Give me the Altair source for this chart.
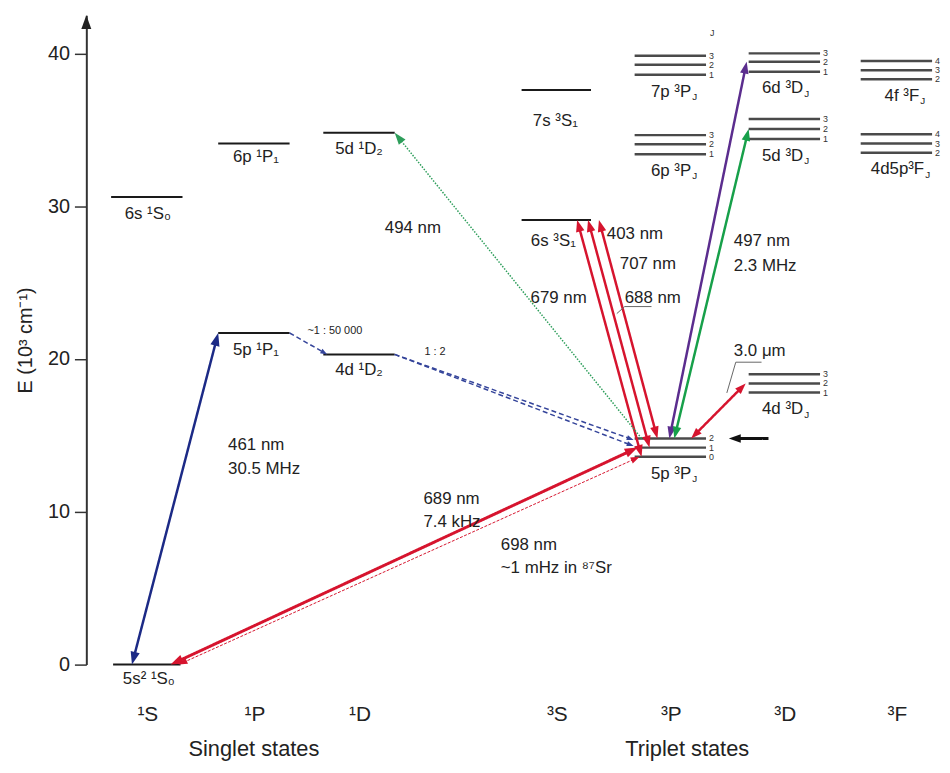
import math
import altair as alt
import pandas as pd

# ------------------------------------------------------------------ data
# energies in 10^3 cm^-1
single_names = ["5s² ¹S₀", "6s ¹S₀", "5p ¹P₁", "6p ¹P₁", "4d ¹D₂", "5d ¹D₂", "6s ³S₁", "7s ³S₁"]
single_terms = ["1S", "1S", "1P", "1P", "1D", "1D", "3S", "3S"]
single_E = [0.0, 30.6, 21.7, 34.1, 20.3, 34.8, 29.1, 37.6]

multi_names = ["5p ³P", "6p ³P", "7p ³P", "4d ³D", "5d ³D", "6d ³D", "4d5p³F", "4f ³F"]
multi_terms = ["3P", "3P", "3P", "3D", "3D", "3D", "3F", "3F"]
multi_E = [[14.8, 14.2, 13.6], [34.65, 34.05, 33.4], [39.85, 39.25, 38.6],
           [19.0, 18.4, 17.8], [35.7, 35.05, 34.4], [40.0, 39.45, 38.8],
           [34.7, 34.1, 33.5], [39.5, 38.9, 38.3]]
multi_J = [["2", "1", "0"], ["3", "2", "1"], ["3", "2", "1"], ["3", "2", "1"],
           ["3", "2", "1"], ["3", "2", "1"], ["4", "3", "2"], ["4", "3", "2"]]

term_keys = ["1S", "1P", "1D", "3S", "3P", "3D", "3F"]
term_text = ["¹S", "¹P", "¹D", "³S", "³P", "³D", "³F"]
group_text = ["Singlet states", "Triplet states"]

trans_label_text = ["461 nm", "30.5 MHz", "494 nm", "689 nm", "7.4 kHz", "698 nm",
                    "~1 mHz in ⁸⁷Sr", "679 nm", "707 nm", "688 nm", "403 nm",
                    "497 nm", "2.3 MHz", "3.0 μm"]
ratio_text = ["~1 : 50 000", "1 : 2"]
y_ticks = [0, 10, 20, 30, 40]

# ------------------------------------------------------------------ layout
FONT = "Liberation Sans"
W, H = 858, 655
YMAX = 42.5
K = H / YMAX
COL = dict(zip(term_keys, [61, 169, 275, 474, 589, 704, 817]))
HW = {"1S": 36, "1P": 36, "1D": 36, "3S": 35, "3P": 36, "3D": 36, "3F": 36}
BLUE, RED, GREEN, PURPLE, DGREEN = "#1c2a86", "#d6142e", "#17a04a", "#5b2d8e", "#2e9e5b"
TXT = "#222222"

xs = alt.Scale(domain=[0, W], nice=False, zero=False)
ys = alt.Scale(domain=[0, YMAX], nice=False, zero=False)
yaxis = alt.Axis(values=y_ticks, tickSize=12, tickWidth=1.5, domainWidth=2,
                 domainColor="#333", tickColor="#333", labelFontSize=20,
                 labelColor=TXT, labelPadding=5, titleFontSize=20,
                 titleFontWeight="normal", titlePadding=12, titleColor=TXT,
                 grid=False, labelFont=FONT, titleFont=FONT)


def X(f):
    return alt.X(f"{f}:Q", scale=xs, axis=None)


def Y(f):
    return alt.Y(f"{f}:Q", scale=ys, axis=yaxis, title="E (10³ cm⁻¹)")


# ------------------------------------------------------------------ levels
lv_rows, txt_c, txt_l, txt_r = [], [], [], []
Edict = dict(zip(single_names, single_E))
label_drop = [-0.97, -1.1, -1.13, -0.9, -1.03, -1.06, -1.4, -2.0]
label_dx = [2, 1, 2, 2, 0, 0, -3, -1]
for n, t, e, dr, dx in zip(single_names, single_terms, single_E, label_drop, label_dx):
    hw = 34 if e == 0 else HW[t]
    lv_rows.append(dict(x=COL[t] - hw, x2=COL[t] + hw, E=e, c="#1a1a1a", w=2))
    txt_c.append(dict(x=COL[t] + dx, E=e + dr, t=n, s=17, c=TXT))

anchor_dx = [21, 21, 21, 19, 19, 19, 28, 23]
for n, t, es, js, adx in zip(multi_names, multi_terms, multi_E, multi_J, anchor_dx):
    for e, j in zip(es, js):
        lv_rows.append(dict(x=COL[t] - HW[t], x2=COL[t] + HW[t], E=e, c="#4a4a4a", w=2.5))
        txt_l.append(dict(x=COL[t] + HW[t] + 3, E=e, t=j, s=9, c="#333"))
    txt_r.append(dict(x=COL[t] + adx, E=min(es) - 1.1, t=n, s=17, c=TXT))
    txt_l.append(dict(x=COL[t] + adx + 1, E=min(es) - 1.45, t="J", s=10, c=TXT))
txt_l.append(dict(x=COL["3P"] + 40, E=41.3, t="J", s=9, c="#333"))

for k, t in zip(term_keys, term_text):
    txt_c.append(dict(x=COL[k] + 1, E=-3.31, t=t, s=21, c=TXT))
txt_c.append(dict(x=COL["1P"], E=-5.52, t=group_text[0], s=22, c=TXT))
txt_c.append(dict(x=COL["3P"] + 17, E=-5.52, t=group_text[1], s=22, c=TXT))

# transition labels (left aligned)
tl_pos = [(143, 14.34), (143, 12.78), (301, 28.55), (340, 10.84), (340, 9.34),
          (418, 7.85), (418, 6.29), (448, 23.99), (538, 26.2), (543, 23.99),
          (525, 28.16), (653, 27.7), (653, 26.09), (653, 20.5)]
for t, (x, e) in zip(trans_label_text, tl_pos):
    txt_l.append(dict(x=x, E=e, t=t, s=17, c=TXT))
for t, (x, e) in zip(ratio_text, [(223, 21.8), (341, 20.44)]):
    txt_l.append(dict(x=x, E=e, t=t, s=11, c=TXT))

# ------------------------------------------------------------------ transitions
P5, D4, D5, D6 = multi_E[0], multi_E[3], multi_E[4], multi_E[5]
E0 = Edict["5s² ¹S₀"]
E5p1 = Edict["5p ¹P₁"]
E4d1 = Edict["4d ¹D₂"]
E5d1 = Edict["5d ¹D₂"]
E6s3 = Edict["6s ³S₁"]
transitions = [
    # (a col, a dx, a E, b col, b dx, b E, color, width, style, heads, L)
    ("1S", -15, E0, "1P", -36, E5p1, BLUE, 2.5, "solid", "ab", 13),
    ("1S", 24, E0, "3P", -33, P5[1], RED, 3, "solid", "ab", 13),
    ("1S", 32, E0, "3P", -31, P5[2], RED, 1, "thin", "ab", 9),
    ("3P", -29, P5[2], "3S", 21, E6s3, RED, 2.5, "solid", "ab", 12),
    ("3P", -21, P5[1], "3S", 32, E6s3, RED, 2.5, "solid", "ab", 12),
    ("3P", -13, P5[0], "3S", 43, E6s3, RED, 2.5, "solid", "ab", 12),
    ("3P", -1, P5[0], "3D", -38, D6[1], PURPLE, 2.5, "solid", "ab", 12),
    ("3P", 4, P5[0], "3D", -36, D5[1], GREEN, 2.5, "solid", "ab", 12),
    ("3P", 21, P5[0], "3D", -39, D4[1], RED, 2.5, "solid", "ab", 11),
    ("3P", -29, P5[0], "1D", 36, E5d1, DGREEN, 1.5, "dotted", "b", 12),
    ("1P", 36, E5p1, "1D", -32, E4d1, "#34449a", 1.5, "dashed", "b", 7),
    ("1D", 36, E4d1, "3P", -37, P5[0] - 0.1, "#34449a", 1.5, "dashed", "b", 7),
    ("1D", 36, E4d1, "3P", -37, P5[1] + 0.1, "#34449a", 1.5, "dashed", "b", 7),
    ("3P", 99, P5[0], "3P", 59, P5[0], "#111111", 3, "solid", "b", 12),
]

line_rows = {"solid": [], "thin": [], "dotted": [], "dashed": []}
head_rows = []
for ac, adx, aE, bc, bdx, bE, col, w, style, heads, L in transitions:
    ax, bx = COL[ac] + adx, COL[bc] + bdx
    dx, dy = bx - ax, (bE - aE) * K
    n = math.hypot(dx, dy)
    ux, uy = dx / n, dy / n
    back = 0.6 * L
    sx, sE, ex, eE = ax, aE, bx, bE
    if "b" in heads:
        ex, eE = bx - ux * back, bE - uy * back / K
        head_rows.append(dict(x=bx, E=bE, a=math.degrees(math.atan2(ux, uy)) % 360,
                              c=col, sz=(2 * L) ** 2))
    if "a" in heads:
        sx, sE = ax + ux * back, aE + uy * back / K
        head_rows.append(dict(x=ax, E=aE, a=math.degrees(math.atan2(-ux, -uy)) % 360,
                              c=col, sz=(2 * L) ** 2))
    line_rows[style].append(dict(x=sx, E=sE, x2=ex, E2=eE, c=col, w=w))

# y-axis arrow head
head_rows.append(dict(x=0, E=YMAX, a=0, c="#222", sz=(2 * 14) ** 2))

# leader lines
leaders = pd.DataFrame([
    dict(g=1, o=0, x=535, E=22.97), dict(g=1, o=1, x=543, E=23.43), dict(g=1, o=2, x=570, E=23.43),
    dict(g=2, o=0, x=646, E=17.78), dict(g=2, o=1, x=655, E=19.79), dict(g=2, o=2, x=681, E=19.79),
])

# ------------------------------------------------------------------ layers
layers = []
layers.append(alt.Chart(pd.DataFrame(lv_rows)).mark_rule(strokeCap="butt").encode(
    x=X("x"), x2="x2:Q", y=Y("E"),
    color=alt.Color("c:N", scale=None), strokeWidth=alt.StrokeWidth("w:Q", scale=None)))

dash = {"solid": [1, 0], "thin": [3, 1.5], "dotted": [1.5, 1.5], "dashed": [5, 3]}
for style, rows in line_rows.items():
    if not rows:
        continue
    layers.append(alt.Chart(pd.DataFrame(rows)).mark_rule(
        strokeCap="butt", strokeDash=dash[style]).encode(
        x=X("x"), x2="x2:Q", y=Y("E"), y2="E2:Q",
        color=alt.Color("c:N", scale=None), strokeWidth=alt.StrokeWidth("w:Q", scale=None)))

layers.append(alt.Chart(leaders).mark_line(color="#666", strokeWidth=1).encode(
    x=X("x"), y=Y("E"), detail="g:N", order="o:Q"))

layers.append(alt.Chart(pd.DataFrame(head_rows)).mark_point(
    shape="M0,0L-0.36,1L0.36,1Z", filled=True, opacity=1).encode(
    x=X("x"), y=Y("E"), angle=alt.Angle("a:Q", scale=None),
    size=alt.Size("sz:Q", scale=None), color=alt.Color("c:N", scale=None)))


def text_layer(rows, align):
    return alt.Chart(pd.DataFrame(rows)).mark_text(
        align=align, baseline="middle", font=FONT).encode(
        x=X("x"), y=Y("E"), text="t:N",
        size=alt.Size("s:Q", scale=None), color=alt.Color("c:N", scale=None))


layers += [text_layer(txt_c, "center"), text_layer(txt_l, "left"), text_layer(txt_r, "right")]

chart = alt.layer(*layers).properties(
    width=W, height=H,
    autosize=alt.AutoSizeParams(type="none"),
    padding={"left": 79, "top": 4, "right": 5, "bottom": 96},
).configure_view(stroke=None).configure_text(font=FONT)

chart.save("out.html", embed_options={"renderer": "svg", "actions": False})
